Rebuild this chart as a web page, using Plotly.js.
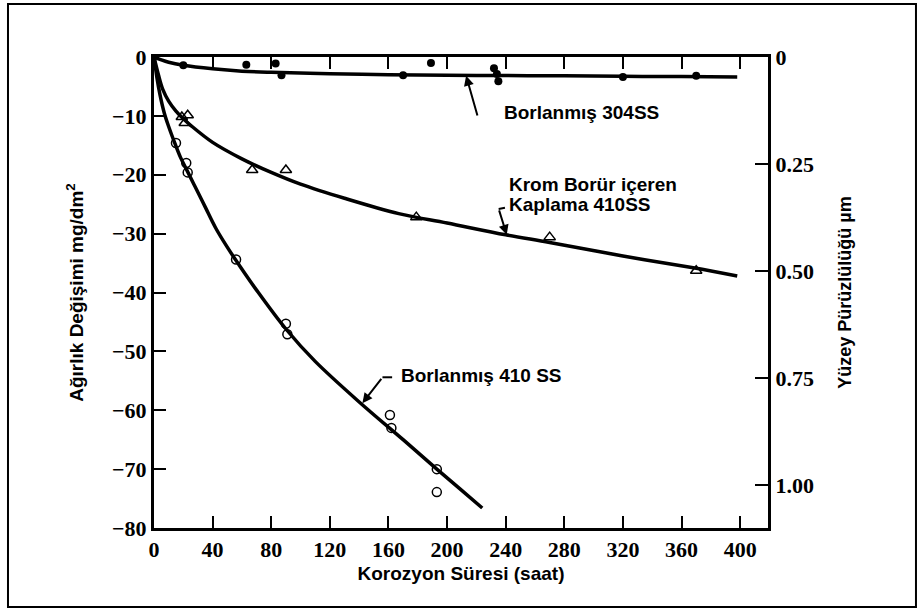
<!DOCTYPE html>
<html>
<head>
<meta charset="utf-8">
<script src="https://cdn.plot.ly/plotly-3.0.1.min.js"></script>
<style>
  html, body { margin: 0; padding: 0; background: #ffffff; }
  #chart { width: 924px; height: 612px; }
</style>
</head>
<body>
<div id="chart"></div>
<script>
// ---- Data ----
// Borlanmış 304SS
const time304Pts = [20, 63, 83, 87, 170, 189, 232, 234, 235, 320, 370];
const loss304Pts = [-1.4, -1.3, -1.1, -3.1, -3.1, -1.0, -1.9, -2.9, -4.1, -3.4, -3.2];
const time304Fit = [0, 5, 10, 20, 40, 60, 80, 120, 160, 200, 240, 280, 320, 360, 398];
const loss304Fit = [0, -0.5, -0.9, -1.4, -2.0, -2.4, -2.6, -2.85, -3.0, -3.1, -3.15, -3.2, -3.28, -3.33, -3.38];

// Krom Borür içeren Kaplama 410SS
const timeKromPts = [19, 23, 21, 67, 90, 179, 270, 370];
const lossKromPts = [-10.2, -9.9, -11.2, -19.2, -19.2, -27.2, -30.6, -36.3];
const timeKromFit = [0, 3, 6, 10, 15, 20, 25, 40, 60, 80, 100, 130, 167, 200, 240, 270, 320, 368, 398];
const lossKromFit = [0, -3, -5.5, -7.5, -9.2, -10.5, -11.6, -14.5, -17.3, -19.6, -21.6, -24, -26.6, -28.2, -30.2, -31.5, -33.8, -35.8, -37.2];

// Borlanmış 410 SS
const time410Pts = [15, 22, 23, 56, 90, 91, 161, 162, 193, 193];
const loss410Pts = [-14.6, -18, -19.6, -34.4, -45.3, -47.1, -60.8, -63, -70, -73.9];
const time410Fit = [0, 2, 4, 7, 10, 14, 18, 22, 28, 35, 42, 50, 58, 70, 90, 110, 141, 170, 193, 210, 224];
const loss410Fit = [0, -3.5, -6.3, -9.5, -11.8, -14.5, -17, -19, -22, -25.5, -29, -32.3, -35.3, -39.6, -46.2, -51.7, -58.8, -65, -70, -73.6, -76.6];

// Axis ticks
const xTicks = [0, 40, 80, 120, 160, 200, 240, 280, 320, 360, 400];
const yTicks = [0, -10, -20, -30, -40, -50, -60, -70, -80];
const y2Ticks = [0, 0.25, 0.5, 0.75, 1.0];
const y2TickText = ['0', '0.25', '0.50', '0.75', '1.00'];

// ---- Styles ----
const black = '#000000';
const tickFont = { family: 'Liberation Serif, DejaVu Serif, serif', size: 22, color: black, weight: 'bold' };
const labelFont = { family: 'Liberation Sans, Arial, sans-serif', size: 19, color: black, weight: 'bold' };

const traces = [
  { x: time304Fit, y: loss304Fit, mode: 'lines', line: { color: black, width: 3.5, shape: 'spline', smoothing: 1 }, hoverinfo: 'skip' },
  { x: time304Pts, y: loss304Pts, mode: 'markers', marker: { symbol: 'circle', size: 8, color: black } },
  { x: timeKromFit, y: lossKromFit, mode: 'lines', line: { color: black, width: 3.5, shape: 'spline', smoothing: 1 }, hoverinfo: 'skip' },
  { x: timeKromPts, y: lossKromPts, mode: 'markers', marker: { symbol: 'triangle-up-open', size: 10, color: black, line: { width: 1.5, color: black } } },
  { x: time410Fit, y: loss410Fit, mode: 'lines', line: { color: black, width: 3.5, shape: 'spline', smoothing: 1 }, hoverinfo: 'skip' },
  { x: time410Pts, y: loss410Pts, mode: 'markers', marker: { symbol: 'circle-open', size: 9, color: black, line: { width: 1.5, color: black } } },
  { x: [null], y: [null], yaxis: 'y2', mode: 'markers', hoverinfo: 'skip' }
];

function arrow(tipX, tipY, tailX, tailY) {
  return {
    x: tipX, y: tipY, ax: tailX, ay: tailY, xref: 'x', yref: 'y', axref: 'x', ayref: 'y',
    text: '', showarrow: true, arrowhead: 2, arrowsize: 1, arrowwidth: 2, arrowcolor: black,
    standoff: 0, startstandoff: 0
  };
}
function label(text, x, y) {
  return { x: x, y: y, xref: 'x', yref: 'y', text: text, showarrow: false, xanchor: 'left', yanchor: 'middle', font: labelFont };
}

const layout = {
  width: 924, height: 612,
  margin: { l: 154, r: 156, t: 57, b: 84 },
  paper_bgcolor: '#ffffff', plot_bgcolor: '#ffffff',
  showlegend: false,
  xaxis: {
    range: [0, 419], tickvals: xTicks, ticks: 'inside', ticklen: 12, tickwidth: 2, tickcolor: black,
    showline: true, linewidth: 3, linecolor: black, mirror: 'ticks',
    showgrid: false, zeroline: false, tickfont: tickFont,
    title: { text: 'Korozyon Süresi (saat)', font: labelFont, standoff: 6 }
  },
  yaxis: {
    range: [-80, 0], tickvals: yTicks, ticks: 'inside', ticklen: 12, tickwidth: 2, tickcolor: black,
    showline: true, linewidth: 3, linecolor: black,
    showgrid: false, zeroline: false, tickfont: tickFont,
    title: { text: 'Ağırlık Değişimi mg/dm<sup>2</sup>', font: labelFont, standoff: 24 }
  },
  yaxis2: {
    overlaying: 'y', side: 'right', range: [1.10, 0],
    tickvals: y2Ticks, ticktext: y2TickText, ticks: 'inside', ticklen: 13, tickwidth: 2, tickcolor: black,
    showline: true, linewidth: 3, linecolor: black,
    showgrid: false, zeroline: false, tickfont: tickFont,
    title: { text: 'Yüzey Pürüzlülüğü µm', font: { family: 'Liberation Sans, Arial, sans-serif', size: 18, color: black, weight: 'bold' }, standoff: 26 }
  },
  annotations: [
    label('Borlanmış 304SS', 237.3, -9.4),
    label('Krom Borür içeren', 241, -21.6),
    label('Kaplama 410SS', 241, -25.0),
    label('Borlanmış 410 SS', 167.5, -54.1),
    arrow(213, -3.2, 221, -10.2),
    arrow(240.7, -30.2, 235.2, -25.8),
    arrow(142.2, -58.8, 155.9, -54.4)
  ],
  shapes: [
    { type: 'line', xref: 'x', yref: 'y', x0: 155.9, y0: -54.4, x1: 162.5, y1: -54.4, line: { color: black, width: 2 } },
    { type: 'line', xref: 'x', yref: 'y', x0: 235.2, y0: -25.8, x1: 239.5, y1: -25.6, line: { color: black, width: 2 } },
    { type: 'rect', xref: 'paper', yref: 'paper', x0: -0.2378, x1: 1.241, y0: -0.1677, y1: 1.1125, line: { color: black, width: 2 } }
  ]
};

Plotly.newPlot('chart', traces, layout, { staticPlot: true, displayModeBar: false });
</script>
</body>
</html>
